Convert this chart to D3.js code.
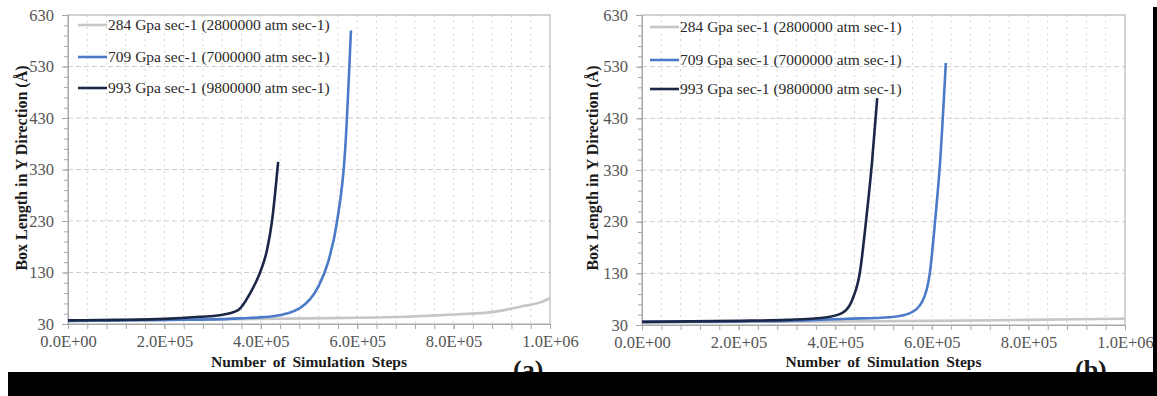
<!DOCTYPE html>
<html lang="en">
<head>
  <meta charset="UTF-8" />
  <title>box length vs steps</title>
  <script src="https://d3js.org/d3.v7.min.js"></script>
  <style>
    body { margin: 0; background: #fff; }
    .line { fill: none; stroke-width: 2.6; }
  </style>
</head>
<body>
<script>

const WIDTH = 1157;
const HEIGHT = 396;
const SERIF = "'Liberation Serif', 'Times New Roman', Times, serif";

// axis ticks
const yTicks = [30, 130, 230, 330, 430, 530, 630];
const xTicks = [0, 200000, 400000, 600000, 800000, 1000000];
const xTickLabels = ["0.0E+00", "2.0E+05", "4.0E+05", "6.0E+05", "8.0E+05", "1.0E+06"];

const seriesNames = [
  "284 Gpa sec-1 (2800000 atm sec-1)",
  "709 Gpa sec-1 (7000000 atm sec-1)",
  "993 Gpa sec-1 (9800000 atm sec-1)"
];
const seriesColors = ["#c6c6c6", "#4a7ac8", "#1c2747"];

// panel (a)
const a284Steps = [0, 100000, 200000, 300000, 400000, 500000, 600000, 700000, 770000, 830000, 880000, 940000, 980000, 1000000];
const a284Len   = [36, 37, 38, 39, 40, 41, 42, 44, 47, 50, 53, 64, 72, 80];
const a709Steps = [0, 100000, 200000, 300000, 357000, 425000, 481000, 519000, 539000, 558000, 575000, 587000];
const a709Len   = [36, 37, 38, 39, 41, 45, 61, 102, 148, 228, 368, 600];
const a993Steps = [0, 100000, 200000, 274000, 315000, 353000, 378000, 398000, 413000, 423000, 436000];
const a993Len   = [37, 38, 40, 44, 47, 57, 90, 129, 174, 228, 345];

// panel (b)
const b284Steps = [0, 200000, 400000, 600000, 800000, 1000000];
const b284Len   = [35, 36, 37, 38, 40, 42];
const b709Steps = [0, 200000, 300000, 424000, 513000, 555000, 580000, 596000, 607000, 617000, 629000];
const b709Len   = [36, 37, 38, 42, 45, 53, 75, 131, 233, 343, 537];
const b993Steps = [0, 200000, 300000, 375000, 414000, 435000, 451000, 464000, 476000, 487000];
const b993Len   = [36, 38, 40, 44, 53, 78, 131, 233, 343, 469];

var svg = d3.select("body")
  .append("svg")
    .attr("width", WIDTH)
    .attr("height", HEIGHT)
    .attr("font-family", SERIF);

function zip(steps, lens) {
  return steps.map((s, i) => ({step: s, len: lens[i]}));
}

function styleAxis(s) {
  s.attr("font-family", SERIF).attr("font-size", 16.5);
  s.select(".domain").attr("stroke", "#a8a8a8");
  s.selectAll(".tick line").attr("stroke", "#a8a8a8");
  s.selectAll(".tick text").attr("fill", "#555");
}

function drawPanel(p) {
  const x = d3.scaleLinear().domain([0, 1000000]).range([p.left, p.right]);
  const y = d3.scaleLinear().domain([30, 630]).range([p.bottom, p.top]);
  const g = svg.append("g");

  // grid: vertical dashed every 4E4, horizontal dashed every 100
  const vGrid = d3.range(40000, 1000000, 40000);
  g.selectAll(".vgrid").data(vGrid).enter().append("line")
    .attr("x1", d => x(d)).attr("x2", d => x(d))
    .attr("y1", p.top).attr("y2", p.bottom)
    .attr("stroke", "#d4d4d4")
    .attr("stroke-dasharray", "2,4");
  g.selectAll(".hgrid").data(yTicks.slice(1, -1)).enter().append("line")
    .attr("x1", p.left).attr("x2", p.right)
    .attr("y1", d => y(d)).attr("y2", d => y(d))
    .attr("stroke", "#cfcfcf")
    .attr("stroke-dasharray", "5,3");

  // plot border
  g.append("rect")
    .attr("x", p.left).attr("y", p.top)
    .attr("width", p.right - p.left).attr("height", p.bottom - p.top)
    .attr("fill", "none").attr("stroke", "#a8a8a8");

  // minor ticks
  g.append("g")
    .attr("transform", `translate(${p.left},0)`)
    .call(d3.axisLeft(y).tickValues(d3.range(30, 631, 20)).tickSize(4).tickFormat(""))
    .call(styleAxis)
    .call(s => s.select(".domain").remove());
  g.append("g")
    .attr("transform", `translate(0,${p.bottom})`)
    .call(d3.axisBottom(x).tickValues(d3.range(0, 1000001, 40000)).tickSize(5).tickFormat(""))
    .call(styleAxis)
    .call(s => s.select(".domain").remove());

  // major axes with labels
  g.append("g")
    .attr("transform", `translate(${p.left},0)`)
    .call(d3.axisLeft(y).tickValues(yTicks).tickSize(6).tickPadding(8).tickFormat(d3.format("d")))
    .call(styleAxis);
  g.append("g")
    .attr("transform", `translate(0,${p.bottom})`)
    .call(d3.axisBottom(x).tickValues(xTicks).tickSize(5).tickPadding(6)
      .tickFormat((d, i) => xTickLabels[i]))
    .call(styleAxis);

  // lines
  const line = d3.line()
    .x(d => x(d.step))
    .y(d => y(d.len))
    .curve(d3.curveMonotoneX);
  p.series.forEach((s, i) => {
    g.append("path")
      .datum(s)
      .attr("class", "line")
      .attr("stroke", seriesColors[i])
      .attr("d", line);
  });

  // legend
  seriesNames.forEach((name, i) => {
    const ly = p.legendY[i];
    g.append("line")
      .attr("x1", p.legendX).attr("x2", p.legendX + 29)
      .attr("y1", ly).attr("y2", ly)
      .attr("stroke", seriesColors[i]).attr("stroke-width", 2.6);
    g.append("text")
      .attr("x", p.legendX + 30).attr("y", ly + 5)
      .attr("font-size", "15.5px")
      .attr("fill", "#2a2a2a")
      .text(name);
  });

  // axis titles
  g.append("text")
    .attr("x", (p.left + p.right) / 2).attr("y", 367)
    .attr("text-anchor", "middle")
    .attr("font-size", "15.5px").attr("font-weight", "bold")
    .attr("word-spacing", "3px")
    .attr("fill", "#1a1a1a")
    .text("Number of Simulation Steps");
  g.append("text")
    .attr("transform", `translate(${p.titleX},168) rotate(-90)`)
    .attr("text-anchor", "middle")
    .attr("font-size", "16px").attr("font-weight", "bold")
    .attr("fill", "#1a1a1a")
    .text("Box Length in Y Direction (Å)");

  // panel letter
  g.append("text")
    .attr("x", p.letterX).attr("y", 378)
    .attr("font-size", "26px").attr("font-weight", "bold")
    .attr("fill", "#1a1a1a")
    .text(p.letter);
}

drawPanel({
  left: 68, right: 550, top: 15, bottom: 324,
  titleX: 27, legendX: 78, legendY: [25, 57, 88],
  letter: "(a)", letterX: 513,
  series: [zip(a284Steps, a284Len), zip(a709Steps, a709Len), zip(a993Steps, a993Len)]
});
drawPanel({
  left: 642, right: 1125, top: 15, bottom: 325,
  titleX: 598, legendX: 650, legendY: [27, 60, 89],
  letter: "(b)", letterX: 1075,
  series: [zip(b284Steps, b284Len), zip(b709Steps, b709Len), zip(b993Steps, b993Len)]
});

// black band over the bottom and right edge
svg.append("rect")
  .attr("x", 8).attr("y", 372)
  .attr("width", WIDTH - 8).attr("height", HEIGHT - 372)
  .attr("fill", "#000");
svg.append("rect")
  .attr("x", 1153).attr("y", 7)
  .attr("width", WIDTH - 1153).attr("height", HEIGHT - 7)
  .attr("fill", "#000");

</script>
</body>
</html>
